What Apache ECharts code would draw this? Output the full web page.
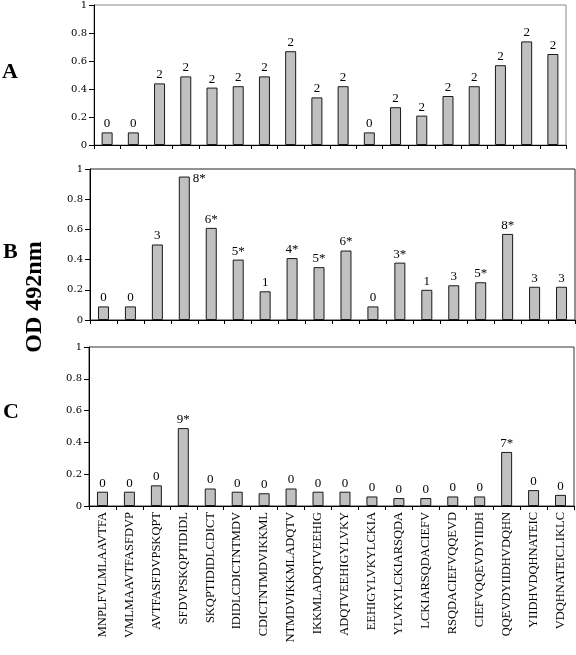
<!DOCTYPE html>
<html>
<head>
<meta charset="utf-8">
<script src="https://cdn.jsdelivr.net/npm/echarts@6/dist/echarts.min.js"></script>
<style>html,body{margin:0;padding:0;background:#fff;}#c{width:576px;height:655px;}</style>
</head>
<body>
<div id="c"></div>
<script>
const categories = ['MNPLFVLMLAAVTFA','VMLMAAVTFASFDVP','AVTFASFDVPSKQPT','SFDVPSKQPTIDIDL','SKQPTIDIDLCDICT','IDIDLCDICTNTMDV','CDICTNTMDVIKKML','NTMDVIKKMLADQTV','IKKMLADQTVEEHIG','ADQTVEEHIGYLVKY','EEHIGYLVKYLCKIA','YLVKYLCKIARSQDA','LCKIARSQDACIEFV','RSQDACIEFVQQEVD','CIEFVQQEVDYIIDH','QQEVDYIIDHVDQHN','YIIDHVDQHNATEIC','VDQHNATEICLIKLC'];
const valuesA = [0.09,0.09,0.44,0.49,0.41,0.42,0.49,0.67,0.34,0.42,0.09,0.27,0.21,0.35,0.42,0.57,0.74,0.65];
const labelsA = ['0','0','2','2','2','2','2','2','2','2','0','2','2','2','2','2','2','2'];
const valuesB = [0.09,0.09,0.50,0.95,0.61,0.40,0.19,0.41,0.35,0.46,0.09,0.38,0.20,0.23,0.25,0.57,0.22,0.22];
const labelsB = ['0','0','3','8*','6*','5*','1','4*','5*','6*','0','3*','1','3','5*','8*','3','3'];
const valuesC = [0.09,0.09,0.13,0.49,0.11,0.09,0.08,0.11,0.09,0.09,0.06,0.05,0.05,0.06,0.06,0.34,0.10,0.07];
const labelsC = ['0','0','0','9*','0','0','0','0','0','0','0','0','0','0','0','7*','0','0'];
const yTicks = [0,0.2,0.4,0.6,0.8,1];

const SERIF = 'Liberation Serif, Times New Roman, serif';

const grids = [
  {left:94, top:3, width:472, height:142, border:'#888'},
  {left:90, top:169, width:485, height:151, border:'#222'},
  {left:89, top:347, width:485, height:159, border:'#333'}
];
const panels = [[valuesA,labelsA],[valuesB,labelsB],[valuesC,labelsC]];

function makeData(vals, labs){
  return vals.map(function(v,i){
    const item = {value:v};
    if (v > 0.9) {
      item.label = {position:['100%',0], offset:[3,-4], align:'left', verticalAlign:'top'};
    }
    return item;
  });
}

const option = {
  animation:false,
  backgroundColor:'#fff',
  grid: grids.map(g => ({left:g.left, top:g.top, width:g.width, height:g.height, show:true, borderColor:g.border, borderWidth:1, backgroundColor:'transparent'})),
  xAxis: grids.map((g,i) => ({
    type:'category', gridIndex:i, data:categories,
    axisLine:{show:true, lineStyle:{color:'#000', width:1}},
    axisTick:{show:true, length:4, inside:false, lineStyle:{color:'#000'}},
    axisLabel:{show:i===2, rotate:90, interval:0, fontFamily:SERIF, fontSize:12.5, color:'#000', margin:6}
  })),
  yAxis: grids.map((g,i) => ({
    type:'value', gridIndex:i, min:0, max:1, interval:0.2,
    axisLine:{show:true, lineStyle:{color:'#000', width:1}},
    axisTick:{show:true, length:5, lineStyle:{color:'#000'}},
    splitLine:{show:false},
    axisLabel:{fontFamily:'DejaVu Serif, serif', fontSize:10, color:'#000', margin:7,
      formatter: function(v){ const t = yTicks.find(x => Math.abs(x - v) < 1e-6); return String(t !== undefined ? t : v); }}
  })),
  series: panels.map((p,i) => ({
    type:'bar', xAxisIndex:i, yAxisIndex:i, barWidth:11,
    data: makeData(p[0], p[1]),
    itemStyle:{color:'#c0c0c0', borderColor:'#1a1a1a', borderWidth:1},
    label:{show:true, position:'top', distance:2, fontFamily:SERIF, fontSize:13, color:'#000',
      formatter: function(params){ return p[1][params.dataIndex]; }}
  })),
  graphic: [
    {type:'text', left:2, top:61, style:{text:'A', font:'bold 22px Liberation Serif, serif', fill:'#000'}},
    {type:'text', left:3, top:241, style:{text:'B', font:'bold 22px Liberation Serif, serif', fill:'#000'}},
    {type:'text', left:3, top:401, style:{text:'C', font:'bold 22px Liberation Serif, serif', fill:'#000'}},
    {type:'text', x:35, y:297, rotation:Math.PI/2, style:{text:'OD 492nm', font:'bold 24px Liberation Serif, serif', fill:'#000', align:'center', verticalAlign:'middle'}}
  ]
};
const chart = echarts.init(document.getElementById('c'), null, {renderer:'canvas'});
chart.setOption(option);
</script>
</body>
</html>
